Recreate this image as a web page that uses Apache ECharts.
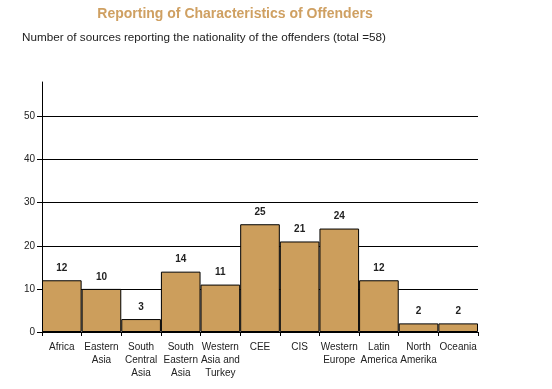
<!DOCTYPE html>
<html><head><meta charset="utf-8">
<script src="https://cdn.jsdelivr.net/npm/echarts@6/dist/echarts.min.js"></script>
<style>html,body{margin:0;padding:0;background:#fff}#c{width:552px;height:389px}</style>
</head><body><div id="c"></div>
<script>
const categories = ["Africa","Eastern\nAsia","South\nCentral\nAsia","South\nEastern\nAsia","Western\nAsia and\nTurkey","CEE","CIS","Western\nEurope","Latin\nAmerica","North\nAmerika","Oceania"];
const values = [12,10,3,14,11,25,21,24,12,2,2];
const yTicks = [0,10,20,30,40,50];

const chart = echarts.init(document.getElementById('c'), null, {renderer:'canvas'});
chart.setOption({
  animation:false,
  backgroundColor:'#fff',
  title:[
    {text:'Reporting of Characteristics of Offenders', left:235, top:7, textAlign:'center', padding:0,
     textStyle:{fontFamily:'Liberation Sans, Arial', fontSize:14, fontWeight:'bold', color:'#CFA062'}},
    {text:'Number of sources reporting the nationality of the offenders (total =58)', left:22, top:32, padding:0,
     textStyle:{fontFamily:'Liberation Sans, Arial', fontSize:11.7, fontWeight:'normal', color:'#222'}}
  ],
  grid:{left:42, right:74, top:82, bottom:57, containLabel:false},
  xAxis:{type:'category', data:categories, boundaryGap:true,
    axisLine:{lineStyle:{color:'#000', width:1}},
    axisTick:{show:true, length:4, lineStyle:{color:'#000'}},
    axisLabel:{interval:0, color:'#222', fontFamily:'Liberation Sans, Arial', fontSize:10, lineHeight:13, margin:9}
  },
  yAxis:{type:'value', min:0, max:58, interval:10,
    axisLine:{show:true, lineStyle:{color:'#000', width:1}},
    axisTick:{show:true, length:5, customValues:yTicks, lineStyle:{color:'#000'}},
    splitLine:{show:true, lineStyle:{color:'#000', width:1}},
    axisLabel:{color:'#222', fontFamily:'Liberation Sans, Arial', fontSize:10, margin:7, customValues:yTicks}
  },
  series:[{type:'bar', data:values, barCategoryGap:'0%', barWidth:'100%',
    itemStyle:{color:'#CC9E5C', borderColor:'#000', borderWidth:1},
    label:{show:true, position:'top', distance:7, color:'#222', fontFamily:'Liberation Sans, Arial', fontSize:10, fontWeight:'bold'}
  }]
});
</script></body></html>
